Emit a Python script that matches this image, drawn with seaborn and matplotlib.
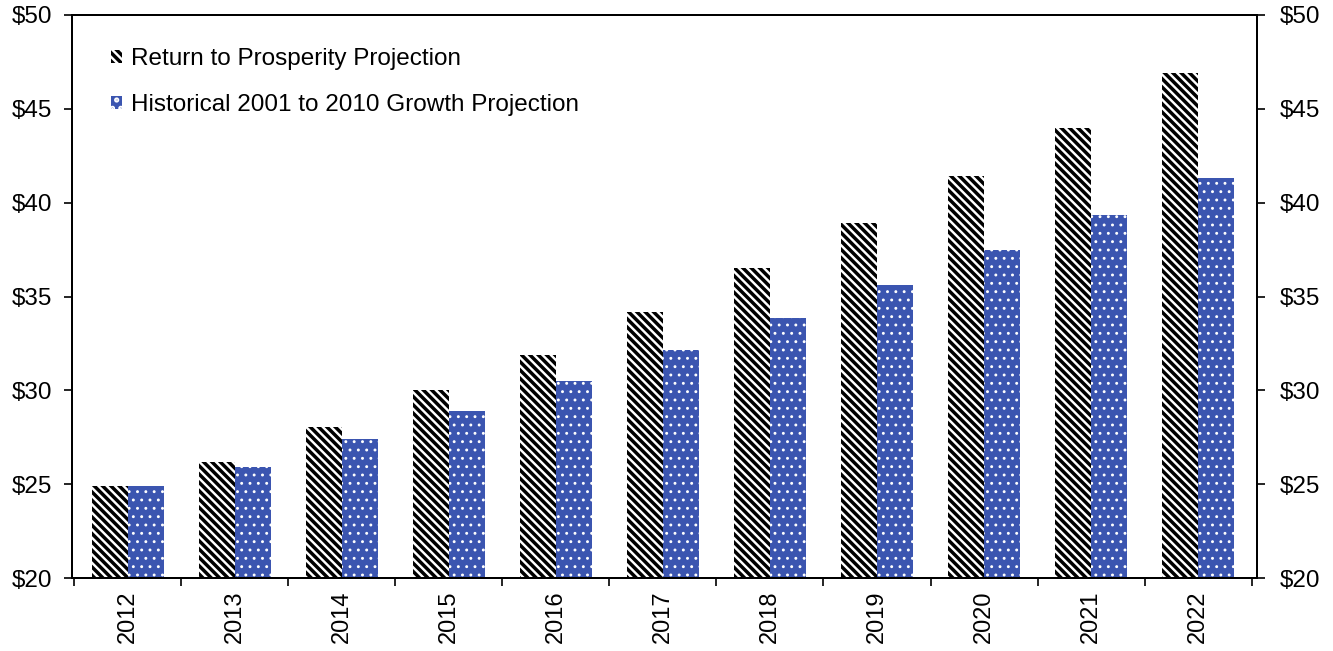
import matplotlib
matplotlib.use("Agg")
import matplotlib.pyplot as plt
import seaborn as sns
import pandas as pd
import numpy as np
from matplotlib.patches import Patch

years = ["2012", "2013", "2014", "2015", "2016", "2017", "2018", "2019", "2020", "2021", "2022"]
prosperity = [24.9, 26.2, 28.05, 30.0, 31.9, 34.2, 36.5, 38.9, 41.4, 44.0, 46.9]
historical = [24.9, 25.9, 27.4, 28.9, 30.5, 32.15, 33.85, 35.6, 37.5, 39.35, 41.3]
series_names = ["Return to Prosperity Projection", "Historical 2001 to 2010 Growth Projection"]
yticks = [20, 25, 30, 35, 40, 45, 50]

BLUE = "#3B55B0"
STRIPE = "\\\\\\\\"
DOTS = ".."

sns.set_theme(style="white")
plt.rcParams["font.family"] = ["Liberation Sans", "DejaVu Sans"]
plt.rcParams["hatch.linewidth"] = 2.5
plt.rcParams["text.color"] = "black"
plt.rcParams["xtick.color"] = "black"
plt.rcParams["ytick.color"] = "black"

df = pd.DataFrame({
    "year": years * 2,
    "value": prosperity + historical,
    "series": [series_names[0]] * len(years) + [series_names[1]] * len(years),
})

fig = plt.figure(figsize=(13.33, 6.51), dpi=100)
ax = fig.add_axes([0.054, 0.112, 0.889, 0.865])

sns.barplot(data=df, x="year", y="value", hue="series", order=years,
            hue_order=series_names, palette=["white", BLUE], width=0.67,
            saturation=1, ax=ax, legend=False)

def style(patch, idx):
    if idx == 0:
        patch.set_facecolor("white")
        patch.set_edgecolor("black")
        patch.set_hatch(STRIPE)
        patch.set_linewidth(0)
        if hasattr(patch, "set_hatch_linewidth"):
            patch.set_hatch_linewidth(2.5)
    else:
        patch.set_facecolor(BLUE)
        patch.set_edgecolor("white")
        patch.set_hatch(DOTS)
        patch.set_linewidth(0)
        if hasattr(patch, "set_hatch_linewidth"):
            patch.set_hatch_linewidth(0.9)

for i, cont in enumerate(ax.containers):
    for p in cont.patches:
        style(p, i)
        h = p.get_height()
        p.set_y(20)
        p.set_height(h - 20)

ax.set_ylim(20, 50)
ax.set_xlim(-0.52, 10.55)
ax.set_yticks(yticks)
ax.set_yticklabels([f"${v}" for v in yticks])
ax.set_xlabel("")
ax.set_ylabel("")

ax.set_xticks(np.arange(len(years)))
ax.set_xticklabels(years, rotation=90, fontsize=17)
ax.set_xticks(np.arange(-0.5, len(years) + 0.5, 1), minor=True)
ax.tick_params(axis="x", which="major", length=0, pad=9)
ax.tick_params(axis="x", which="minor", length=5.5, width=1.2, color="black", direction="out", bottom=True)
ax.tick_params(axis="y", which="major", length=5.5, width=1.2, color="black", direction="out", left=True, labelsize=17.5, pad=9)

for s in ["left", "right", "top", "bottom"]:
    ax.spines[s].set_visible(True)
    ax.spines[s].set_color("black")
    ax.spines[s].set_linewidth(1.4)

ax2 = ax.twinx()
ax2.set_ylim(20, 50)
ax2.set_yticks(yticks)
ax2.set_yticklabels([f"${v}" for v in yticks])
ax2.tick_params(axis="y", length=5.5, width=1.2, color="black", direction="out", right=True, labelsize=17.5, pad=11)
ax2.grid(False)
for s in ["left", "right", "top", "bottom"]:
    ax2.spines[s].set_color("black")
    ax2.spines[s].set_linewidth(1.4)

h1 = Patch(facecolor="white", edgecolor="black", hatch=STRIPE, linewidth=0)
h2 = Patch(facecolor=BLUE, edgecolor="white", hatch=DOTS, linewidth=0)
if hasattr(h2, "set_hatch_linewidth"):
    h2.set_hatch_linewidth(0.9)
leg = ax.legend([h1, h2], series_names, loc="upper left", bbox_to_anchor=(0.021, 0.967),
                frameon=False, fontsize=17.5, handlelength=0.45, handleheight=0.45,
                handletextpad=0.35, labelspacing=0.97, borderaxespad=0.2)

fig.savefig("out.png", dpi=100)
